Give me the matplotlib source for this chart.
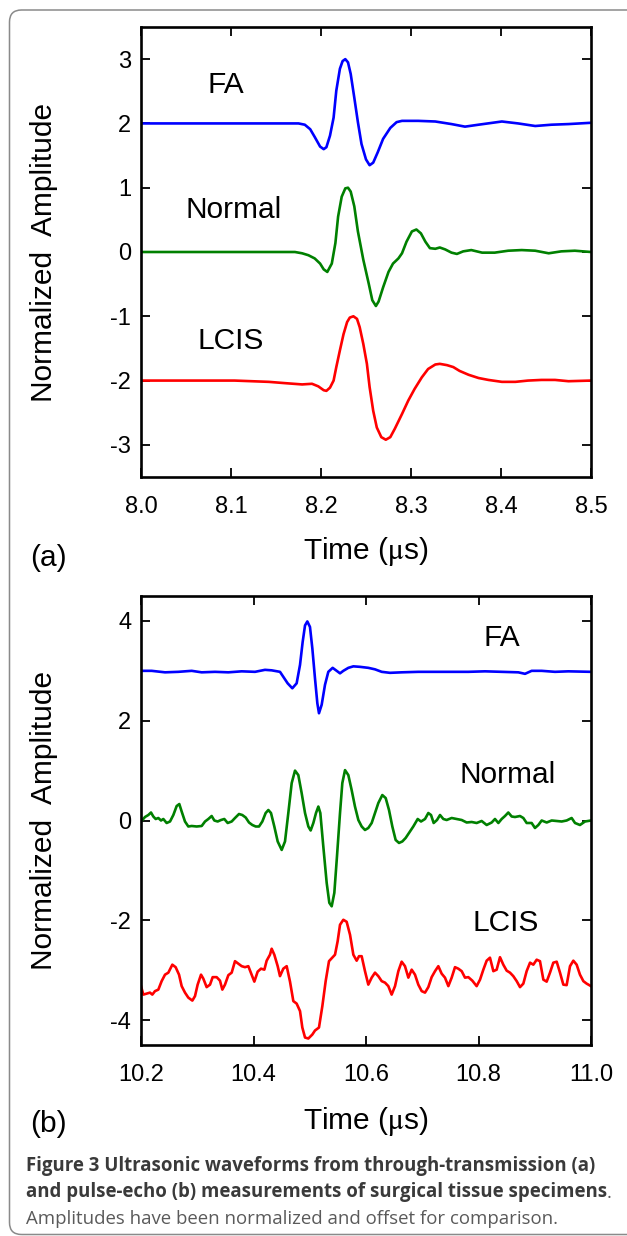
import matplotlib
matplotlib.use("Agg")
import matplotlib.pyplot as plt
from matplotlib.patches import FancyBboxPatch
from matplotlib.transforms import IdentityTransform

plt.rcParams["font.family"] = ["Liberation Sans", "DejaVu Sans"]
plt.rcParams["axes.unicode_minus"] = False
plt.rcParams["mathtext.fontset"] = "stix"

# ---------------- data: panel (a) through-transmission ----------------
a_fa = [(8.000, 2.00), (8.175, 2.00), (8.182, 1.98), (8.188, 1.91), (8.193, 1.79), (8.199, 1.64),
        (8.203, 1.60), (8.206, 1.63), (8.210, 1.81), (8.214, 2.09), (8.217, 2.51), (8.221, 2.85),
        (8.224, 2.97), (8.227, 3.00), (8.230, 2.95), (8.233, 2.77), (8.237, 2.40), (8.241, 2.02),
        (8.245, 1.68), (8.250, 1.44), (8.254, 1.35), (8.258, 1.39), (8.263, 1.55), (8.269, 1.76),
        (8.277, 1.93), (8.284, 2.02), (8.290, 2.04), (8.308, 2.04), (8.327, 2.03), (8.345, 1.99),
        (8.360, 1.95), (8.375, 1.98), (8.401, 2.03), (8.419, 2.00), (8.438, 1.96), (8.456, 1.98),
        (8.475, 1.99), (8.500, 2.01)]
a_normal = [(8.000, 0.00), (8.171, 0.00), (8.179, -0.02), (8.186, -0.05), (8.193, -0.10), (8.199, -0.18),
            (8.203, -0.27), (8.207, -0.31), (8.212, -0.18), (8.216, 0.14), (8.219, 0.55), (8.223, 0.86),
            (8.227, 0.99), (8.230, 1.00), (8.233, 0.94), (8.237, 0.71), (8.241, 0.32), (8.247, -0.12),
            (8.253, -0.49), (8.257, -0.75), (8.261, -0.84), (8.264, -0.77), (8.269, -0.55), (8.275, -0.31),
            (8.280, -0.18), (8.286, -0.10), (8.290, -0.02), (8.295, 0.16), (8.301, 0.32), (8.306, 0.35),
            (8.311, 0.29), (8.316, 0.16), (8.321, 0.06), (8.327, 0.05), (8.332, 0.07), (8.338, 0.04),
            (8.345, -0.01), (8.351, -0.03), (8.358, 0.01), (8.367, 0.03), (8.379, -0.01), (8.393, -0.01),
            (8.408, 0.02), (8.423, 0.03), (8.438, 0.02), (8.453, -0.02), (8.467, 0.01), (8.482, 0.02),
            (8.500, 0.00)]
a_lcis = [(8.000, -2.00), (8.104, -2.00), (8.142, -2.02), (8.160, -2.04), (8.179, -2.06), (8.190, -2.05),
          (8.197, -2.09), (8.203, -2.15), (8.206, -2.16), (8.210, -2.11), (8.214, -2.00), (8.217, -1.79),
          (8.221, -1.53), (8.225, -1.28), (8.229, -1.09), (8.232, -1.02), (8.236, -1.00), (8.240, -1.04),
          (8.243, -1.17), (8.247, -1.43), (8.251, -1.74), (8.254, -2.10), (8.258, -2.47), (8.262, -2.73),
          (8.267, -2.88), (8.272, -2.92), (8.277, -2.88), (8.282, -2.75), (8.290, -2.52), (8.297, -2.31),
          (8.304, -2.13), (8.312, -1.95), (8.319, -1.82), (8.327, -1.75), (8.332, -1.74), (8.340, -1.76),
          (8.347, -1.79), (8.354, -1.85), (8.364, -1.91), (8.375, -1.96), (8.386, -1.99), (8.401, -2.02),
          (8.416, -2.02), (8.430, -2.00), (8.445, -1.99), (8.460, -1.99), (8.475, -2.01), (8.500, -2.00)]

# ---------------- data: panel (b) pulse-echo ----------------
b_fa = [(10.2000, 3.00), (10.2190, 3.00), (10.2427, 2.97), (10.2664, 2.98), (10.2901, 3.00), (10.3079, 2.97),
        (10.3316, 2.98), (10.3553, 2.97), (10.3790, 2.99), (10.4027, 2.98), (10.4204, 3.02), (10.4323, 3.01),
        (10.4471, 2.98), (10.4530, 2.88), (10.4607, 2.75), (10.4690, 2.65), (10.4767, 2.75), (10.4827, 3.12),
        (10.4874, 3.58), (10.4916, 3.91), (10.4957, 3.99), (10.5004, 3.88), (10.5046, 3.45), (10.5093, 2.85),
        (10.5135, 2.35), (10.5164, 2.15), (10.5212, 2.32), (10.5271, 2.72), (10.5330, 2.98), (10.5407, 3.06),
        (10.5479, 3.00), (10.5538, 2.95), (10.5597, 3.00), (10.5686, 3.06), (10.5775, 3.09), (10.5893, 3.08),
        (10.6041, 3.06), (10.6160, 3.03), (10.6279, 2.98), (10.6427, 2.96), (10.6634, 2.97), (10.6930, 2.98),
        (10.7227, 2.98), (10.7523, 2.98), (10.7819, 2.98), (10.8116, 2.99), (10.8412, 2.98), (10.8708, 2.97),
        (10.8827, 2.94), (10.8945, 3.00), (10.9123, 3.00), (10.9360, 2.98), (10.9597, 2.99), (11.0000, 2.98)]
b_normal = [(10.2000, -0.02), (10.2071, 0.07), (10.2130, 0.11), (10.2178, 0.16), (10.2219, 0.08), (10.2261, 0.03),
            (10.2308, 0.05), (10.2356, 0.00), (10.2397, 0.03), (10.2456, -0.05), (10.2516, -0.02), (10.2575, 0.11),
            (10.2634, 0.29), (10.2681, 0.33), (10.2723, 0.18), (10.2782, -0.02), (10.2841, -0.12), (10.2901, -0.11),
            (10.2990, -0.12), (10.3079, -0.11), (10.3138, -0.02), (10.3197, 0.03), (10.3256, 0.09), (10.3304, 0.00),
            (10.3363, -0.02), (10.3422, 0.01), (10.3481, 0.03), (10.3541, -0.05), (10.3612, -0.02), (10.3671, 0.05),
            (10.3742, 0.13), (10.3801, 0.11), (10.3861, 0.06), (10.3920, -0.04), (10.3979, -0.09), (10.4039, -0.12),
            (10.4098, -0.12), (10.4157, -0.02), (10.4216, 0.15), (10.4264, 0.21), (10.4311, 0.15), (10.4370, -0.12),
            (10.4430, -0.42), (10.4501, -0.59), (10.4560, -0.42), (10.4619, 0.15), (10.4679, 0.75), (10.4738, 1.00),
            (10.4797, 0.91), (10.4856, 0.55), (10.4916, 0.15), (10.4975, -0.12), (10.5016, -0.20), (10.5064, -0.05),
            (10.5111, 0.15), (10.5153, 0.28), (10.5188, 0.15), (10.5241, -0.52), (10.5301, -1.25), (10.5348, -1.65),
            (10.5390, -1.72), (10.5437, -1.45), (10.5484, -0.72), (10.5538, 0.15), (10.5579, 0.75), (10.5627, 1.01),
            (10.5686, 0.91), (10.5745, 0.61), (10.5804, 0.28), (10.5864, 0.01), (10.5923, -0.12), (10.5982, -0.19),
            (10.6041, -0.15), (10.6101, -0.05), (10.6160, 0.15), (10.6219, 0.35), (10.6290, 0.51), (10.6350, 0.45),
            (10.6409, 0.21), (10.6468, -0.12), (10.6527, -0.39), (10.6587, -0.45), (10.6646, -0.42), (10.6705, -0.35),
            (10.6764, -0.25), (10.6841, -0.12), (10.6919, 0.03), (10.6978, -0.02), (10.7049, 0.03), (10.7108, 0.15),
            (10.7156, 0.11), (10.7203, -0.05), (10.7262, 0.01), (10.7316, 0.11), (10.7375, 0.03), (10.7434, 0.01),
            (10.7523, 0.05), (10.7612, 0.03), (10.7701, 0.01), (10.7790, -0.04), (10.7879, -0.03), (10.7967, -0.05),
            (10.8056, -0.01), (10.8145, -0.09), (10.8234, -0.04), (10.8293, 0.03), (10.8353, -0.05), (10.8412, 0.03),
            (10.8471, 0.09), (10.8530, 0.16), (10.8590, 0.08), (10.8649, 0.07), (10.8738, 0.09), (10.8797, 0.05),
            (10.8856, -0.05), (10.8945, -0.05), (10.9004, -0.15), (10.9064, -0.09), (10.9123, 0.00), (10.9212, -0.04),
            (10.9301, 0.00), (10.9390, -0.01), (10.9479, -0.02), (10.9567, 0.00), (10.9656, 0.05), (10.9716, -0.05),
            (10.9804, -0.09), (10.9893, -0.02), (11.0000, 0.00)]
b_lcis = [(10.2000, -3.32), (10.2041, -3.49), (10.2101, -3.47), (10.2160, -3.45), (10.2201, -3.49), (10.2249, -3.42),
          (10.2308, -3.39), (10.2367, -3.22), (10.2427, -3.09), (10.2486, -3.05), (10.2557, -2.89), (10.2616, -2.94),
          (10.2676, -3.09), (10.2723, -3.32), (10.2782, -3.45), (10.2841, -3.55), (10.2913, -3.61), (10.2960, -3.52),
          (10.3007, -3.29), (10.3067, -3.09), (10.3108, -3.17), (10.3167, -3.34), (10.3227, -3.29), (10.3274, -3.14),
          (10.3345, -3.14), (10.3404, -3.21), (10.3446, -3.39), (10.3493, -3.29), (10.3553, -3.10), (10.3612, -3.05),
          (10.3671, -2.82), (10.3730, -2.87), (10.3790, -2.92), (10.3849, -2.94), (10.3908, -2.92), (10.3967, -3.09),
          (10.4015, -3.23), (10.4074, -3.03), (10.4133, -2.97), (10.4193, -2.99), (10.4234, -2.81), (10.4293, -2.69),
          (10.4323, -2.57), (10.4370, -2.69), (10.4430, -2.92), (10.4471, -3.12), (10.4530, -2.97), (10.4590, -2.92),
          (10.4649, -3.23), (10.4708, -3.62), (10.4767, -3.67), (10.4827, -3.82), (10.4868, -4.15), (10.4916, -4.35),
          (10.4975, -4.37), (10.5046, -4.29), (10.5093, -4.21), (10.5164, -4.15), (10.5224, -3.72), (10.5283, -3.22),
          (10.5342, -2.82), (10.5401, -2.75), (10.5449, -2.69), (10.5496, -2.42), (10.5538, -2.09), (10.5597, -1.99),
          (10.5656, -2.03), (10.5716, -2.29), (10.5775, -2.69), (10.5834, -2.81), (10.5876, -2.72), (10.5923, -2.72),
          (10.5982, -3.02), (10.6041, -3.29), (10.6101, -3.15), (10.6160, -3.05), (10.6219, -3.12), (10.6279, -3.22),
          (10.6338, -3.25), (10.6397, -3.32), (10.6456, -3.49), (10.6516, -3.32), (10.6575, -3.02), (10.6634, -2.83),
          (10.6693, -2.92), (10.6753, -3.15), (10.6812, -2.99), (10.6871, -3.09), (10.6930, -3.29), (10.6990, -3.42),
          (10.7049, -3.45), (10.7108, -3.34), (10.7167, -3.14), (10.7227, -3.02), (10.7286, -2.92), (10.7345, -3.07),
          (10.7404, -3.15), (10.7464, -3.32), (10.7523, -3.15), (10.7582, -2.94), (10.7641, -2.97), (10.7701, -3.02),
          (10.7760, -3.15), (10.7819, -3.14), (10.7890, -3.21), (10.7967, -3.32), (10.8027, -3.19), (10.8086, -2.99),
          (10.8145, -2.81), (10.8204, -2.75), (10.8264, -3.02), (10.8323, -2.99), (10.8382, -2.74), (10.8441, -2.89),
          (10.8501, -3.01), (10.8560, -3.05), (10.8619, -3.12), (10.8679, -3.22), (10.8738, -3.34), (10.8797, -3.27),
          (10.8856, -3.02), (10.8916, -2.85), (10.8975, -2.89), (10.9034, -2.79), (10.9093, -2.82), (10.9153, -3.19),
          (10.9212, -3.23), (10.9271, -3.05), (10.9330, -2.85), (10.9390, -2.83), (10.9449, -3.05), (10.9508, -3.29),
          (10.9567, -3.30), (10.9627, -2.92), (10.9686, -2.81), (10.9745, -2.89), (10.9804, -3.09), (10.9864, -3.22),
          (10.9923, -3.27), (11.0000, -3.32)]

a_xticks = [8.0, 8.1, 8.2, 8.3, 8.4, 8.5]
a_yticks = [-3, -2, -1, 0, 1, 2, 3]
b_xticks = [10.2, 10.4, 10.6, 10.8, 11.0]
b_yticks = [-4, -2, 0, 2, 4]

series_names = ["FA", "Normal", "LCIS"]
series_colors = ["#0000ff", "#008000", "#ff0000"]
a_label_pos = [(8.094, 2.48), (8.103, 0.53), (8.0994, -1.505)]
b_label_pos = [(10.842, 3.49), (10.852, 0.76), (10.848, -2.21)]

caption_bold_1 = "Figure 3 Ultrasonic waveforms from through-transmission (a)"
caption_bold_2 = "and pulse-echo (b) measurements of surgical tissue specimens"
caption_norm_3 = "Amplitudes have been normalized and offset for comparison."

# ---------------- figure ----------------
W, H = 627, 1236
fig = plt.figure(figsize=(W / 100, H / 100), dpi=100)
fig.patch.set_facecolor("white")


def fx(px):
    return px / W


def fy(py):
    return 1 - py / H


# outer rounded frame
frame = FancyBboxPatch((9.5, 1.5), 700, H - 11.5, boxstyle="round,pad=0,rounding_size=12",
                       transform=IdentityTransform(), facecolor="none", edgecolor="#8a8a8a",
                       linewidth=1.1, zorder=0)
fig.patches.append(frame)

axA = fig.add_axes([fx(141), fy(477), fx(591) - fx(141), fy(27) - fy(477)])
axB = fig.add_axes([fx(141), fy(1045), fx(591) - fx(141), fy(596) - fy(1045)])


def style(ax, xt, yt, xlim, ylim, xfmt):
    ax.set_xlim(*xlim)
    ax.set_ylim(*ylim)
    ax.set_xticks(xt)
    ax.set_xticklabels([xfmt % v for v in xt])
    ax.set_yticks(yt)
    ax.set_yticklabels(["%d" % v for v in yt])
    for s in ax.spines.values():
        s.set_linewidth(1.9)
    ax.tick_params(direction="in", length=6.5, width=1.3, top=True, right=True,
                   labelsize=17, colors="black")
    ax.tick_params(axis="x", pad=14)
    ax.tick_params(axis="y", pad=7)


for (data, col) in zip([a_fa, a_normal, a_lcis], series_colors):
    t, v = zip(*data)
    axA.plot(t, v, color=col, lw=1.9, solid_joinstyle="round")
for (data, col) in zip([b_fa, b_normal, b_lcis], series_colors):
    t, v = zip(*data)
    axB.plot(t, v, color=col, lw=1.9, solid_joinstyle="round")

style(axA, a_xticks, a_yticks, (8.0, 8.5), (-3.5, 3.5), "%.1f")
style(axB, b_xticks, b_yticks, (10.2, 11.0), (-4.5, 4.5), "%.1f")

for name, (tx, ty) in zip(series_names, a_label_pos):
    axA.text(tx, ty, name, fontsize=21.5, ha="center", va="baseline")
for name, (tx, ty) in zip(series_names, b_label_pos):
    axB.text(tx, ty, name, fontsize=21.5, ha="center", va="baseline")

# axis titles
for cy in (252, 820.5):
    fig.text(fx(44.5), fy(cy), "Normalized  Amplitude", rotation=90, fontsize=21.5,
             ha="center", va="center")
fig.text(fx(366), fy(559.5), r"Time ($\mathrm{\mu}$s)", fontsize=21.5, ha="center", va="baseline")
fig.text(fx(366), fy(1129.5), r"Time ($\mathrm{\mu}$s)", fontsize=21.5, ha="center", va="baseline")
fig.text(fx(30), fy(566), "(a)", fontsize=21.5, ha="left", va="baseline")
fig.text(fx(30), fy(1132), "(b)", fontsize=21.5, ha="left", va="baseline")

# caption
cap_fs_bold = 13.45
cap_fs_norm = 13.4
bold_col = "#3a3a3a"
norm_col = "#5a5a5a"
fig.text(fx(26), fy(1171), caption_bold_1, fontsize=cap_fs_bold, family="Open Sans",
         weight="bold", color=bold_col, ha="left", va="baseline")
t2 = fig.text(fx(26), fy(1197.5), caption_bold_2, fontsize=cap_fs_bold, family="Open Sans",
              weight="bold", color=bold_col, ha="left", va="baseline")
fig.text(fx(26), fy(1224), caption_norm_3, fontsize=cap_fs_norm, family="Open Sans",
         color=norm_col, ha="left", va="baseline")
fig.canvas.draw()
ext = t2.get_window_extent()
fig.text(ext.x1 / W, fy(1197.5), ".", fontsize=cap_fs_norm, family="Open Sans",
         color=norm_col, ha="left", va="baseline")

fig.savefig("out.png", dpi=100)
